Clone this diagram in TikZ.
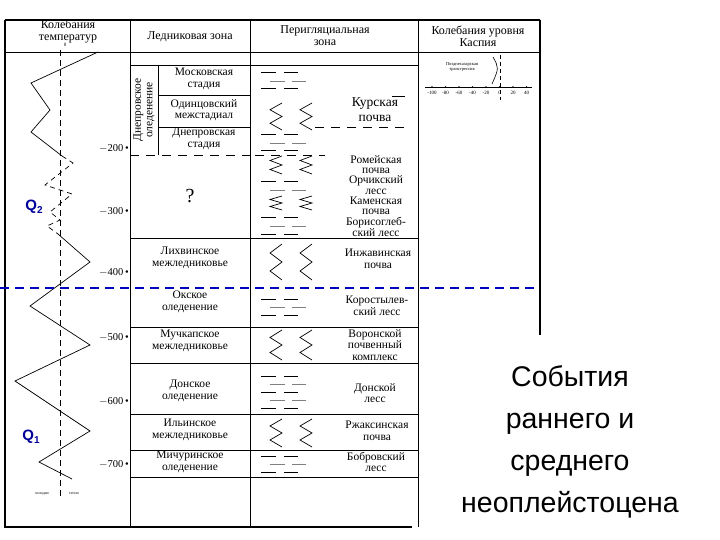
\documentclass[tikz,border=0pt]{standalone}
\usepackage{fontspec}
\setmainfont{Liberation Serif}
\newfontfamily\arialf{Liberation Sans}
\tikzset{
 tx/.style={font=\fontsize{11.5}{11.5}\selectfont,align=center,inner sep=0pt},
 hd/.style={font=\fontsize{12}{12}\selectfont,align=center,inner sep=0pt},
 dp/.style={font=\fontsize{10.5}{10}\selectfont,anchor=east,inner sep=1pt},
 grid/.style={line width=0.8pt},
 thick2/.style={line width=1.6pt},
 qlab/.style={font=\arialf\bfseries\fontsize{15}{15}\selectfont,text=blue!60!black},
}
\newcommand\loessrows[2]{% y start, count
 \foreach \k in {1,...,#2}{
  \pgfmathsetmacro\yy{#1+(\k-1)*8}
  \ifodd\k
   \draw[line width=1pt] (261,\yy)--(276,\yy) (284,\yy)--(298,\yy);
  \else
   \draw[line width=0.8pt,gray] (270,\yy)--(285,\yy) (292,\yy)--(306,\yy);
  \fi}}
\newcommand\soilzz[2]{% y1 y2
 \pgfmathsetmacro\ya{#1}\pgfmathsetmacro\yb{#1+(#2-#1)/4}%
 \pgfmathsetmacro\yc{#1+(#2-#1)/2}\pgfmathsetmacro\yd{#1+3*(#2-#1)/4}%
 \pgfmathsetmacro\ye{#2}%
 \foreach \xo in {270,300}{
  \pgfmathsetmacro\xr{\xo+12}
  \draw[line width=0.7pt] (\xr,\ya) -- (\xo,\yb) -- (\xr,\yc) -- (\xo,\yd) -- (\xr,\ye);}}
\begin{document}
\begin{tikzpicture}[x=1pt,y=-1pt]
\useasboundingbox (0,0) rectangle (720,540);
% frame
\draw[thick2] (5,20) -- (540,20);
\draw[thick2] (5,20) -- (5,527) -- (412,527);
\draw[grid] (5,52) -- (540,52);
\draw[grid] (130,20) -- (130,527);
\draw[grid] (250,20) -- (250,527);
\draw[grid] (418,20) -- (418,527);
\draw[thick2] (540,20) -- (540,335);
\draw[grid] (130,65) -- (418,65);
% headers
\node[hd] (h1) at (68,32) {Колебания\\температур};
\node[font=\tiny] (h1z) at (65,45) {0};
\node[hd] (h2) at (190,37) {Ледниковая зона};
\node[hd] (h3) at (325,36) {Перигляциальная\\зона};
\node[hd] (h4) at (478,36) {Колебания уровня\\Каспия};
% glacier subdivisions
\draw[grid] (158,65) -- (158,155);
\draw[grid] (158,95) -- (250,95);
\draw[grid] (158,127) -- (250,127);
\draw[grid,dashed,dash pattern=on 9pt off 7pt] (130,155) -- (250,155);
\node[tx,rotate=90] (dn) at (144,110) {Днепровское\\оледенение};
\foreach \y in {238,327,363,414,450,477} \draw[grid] (130,\y) -- (418,\y);
% periglacial Kursk dashed
\draw[grid,dashed,dash pattern=on 9pt off 7pt] (315,127) -- (405,127);
\draw[grid] (392,96) -- (405,96);
\draw[grid,dashed,dash pattern=on 9pt off 7pt] (255,155) -- (325,155);
% glacier texts
\node[tx] (g1) at (204,79) {Московская\\стадия};
\node[tx] (g2) at (204,110) {Одинцовский\\межстадиал};
\node[tx] (g3) at (204,139) {Днепровская\\стадия};
\node[font=\fontsize{20}{20}\selectfont] (g4) at (190,196) {?};
\node[tx] (g5) at (190,258) {Лихвинское\\межледниковье};
\node[tx] (g6) at (190,302) {Окское\\оледенение};
\node[tx] (g7) at (190,341) {Мучкапское\\межледниковье};
\node[tx] (g8) at (190,391) {Донское\\оледенение};
\node[tx] (g9) at (190,430) {Ильинское\\межледниковье};
\node[tx] (g10) at (190,462) {Мичуринское\\оледенение};
% periglacial texts
\node[tx,font=\fontsize{13.5}{15}\selectfont] (p1) at (375,110) {Курская\\почва};
\node[tx,font=\fontsize{11.5}{10.3}\selectfont] (p2) at (376,196) {Ромейская\\почва\\Орчикский\\лесс\\Каменская\\почва\\Борисоглеб-\\ский лесс};
\node[tx] (p3) at (378,259) {Инжавинская\\почва};
\node[tx] (p4) at (377,306) {Коростылев-\\ский лесс};
\node[tx] (p5) at (375,345) {Воронской\\почвенный\\комплекс};
\node[tx] (p6) at (375,393) {Донской\\лесс};
\node[tx] (p7) at (377,431) {Ржаксинская\\почва};
\node[tx] (p8) at (376,462) {Бобровский\\лесс};
% periglacial symbols
\loessrows{73}{3}
\loessrows{135}{3}
\soilzz{103}{130}
\soilzz{156}{174}
\loessrows{182}{2}
\soilzz{196}{210}
\loessrows{218}{3}
\soilzz{244}{280}
\loessrows{299}{3}
\soilzz{330}{360}
\loessrows{376}{5}
\soilzz{419}{447}
\loessrows{456}{3}
% depth ticks
\foreach \y/\t in {148/200,211/300,272/400,337/500,401/600,464/700}{
 \node[dp] at (130,\y) {$-$\t\,\textbullet};}
% temperature column
\draw[dashed,line width=0.6pt,dash pattern=on 6pt off 4pt] (60,50) -- (60,497);
\draw[line width=0.7pt] (98,52) -- (31,83) -- (50,110) -- (31,132) -- (62,156);
\draw[line width=0.7pt,dashed,dash pattern=on 5pt off 4pt] (62,156) -- (73,163) -- (45,185) -- (72,194) -- (50,212) -- (60,220) -- (47,226) -- (58,234);
\draw[line width=0.7pt] (58,234) -- (90,262) -- (30,306) -- (90,345) -- (15,381) -- (90,431) -- (39,462) -- (72,479);
\node[qlab] (q2) at (34,207) {Q\raisebox{-3pt}{\fontsize{10}{10}\selectfont 2}};
\node[qlab] (q1) at (31,437) {Q\raisebox{-3pt}{\fontsize{10}{10}\selectfont 1}};
\node[font=\fontsize{4}{4}\selectfont] (cold) at (42,494) {холодно};
\node[font=\fontsize{4}{4}\selectfont] (warm) at (74,494) {тепло};
% Caspian scale
\draw[line width=0.6pt] (425,87) -- (532,87);
\foreach \i/\t in {0/-100,1/-80,2/-60,3/-40,4/-20,5/0,6/20,7/40}{
 \fill (432+\i*13.5,87) circle (0.9);
 \node[font=\fontsize{5}{5}\selectfont] at (432+\i*13.5,93) {\t};}
\draw[dashed,line width=1pt,dash pattern=on 4pt off 3pt] (500,55) -- (500,100);
\draw[line width=0.6pt] (493,57) .. controls (499,68) .. (492,84);
\node[font=\fontsize{4.5}{5}\selectfont,align=center] (tr) at (462,67) {Позднехазарская\\трансгрессия};
% blue dashed line
\draw[blue!75!black,line width=2pt,dash pattern=on 9pt off 6pt] (0,288) -- (540,288);
% right text
\fill[white] (428,338) rectangle (720,540);
\node[font=\arialf\fontsize{28.5}{42}\selectfont,align=center] (ev) at (570,442) {События\\раннего и\\среднего\\неоплейстоцена};
\end{tikzpicture}
\end{document}
